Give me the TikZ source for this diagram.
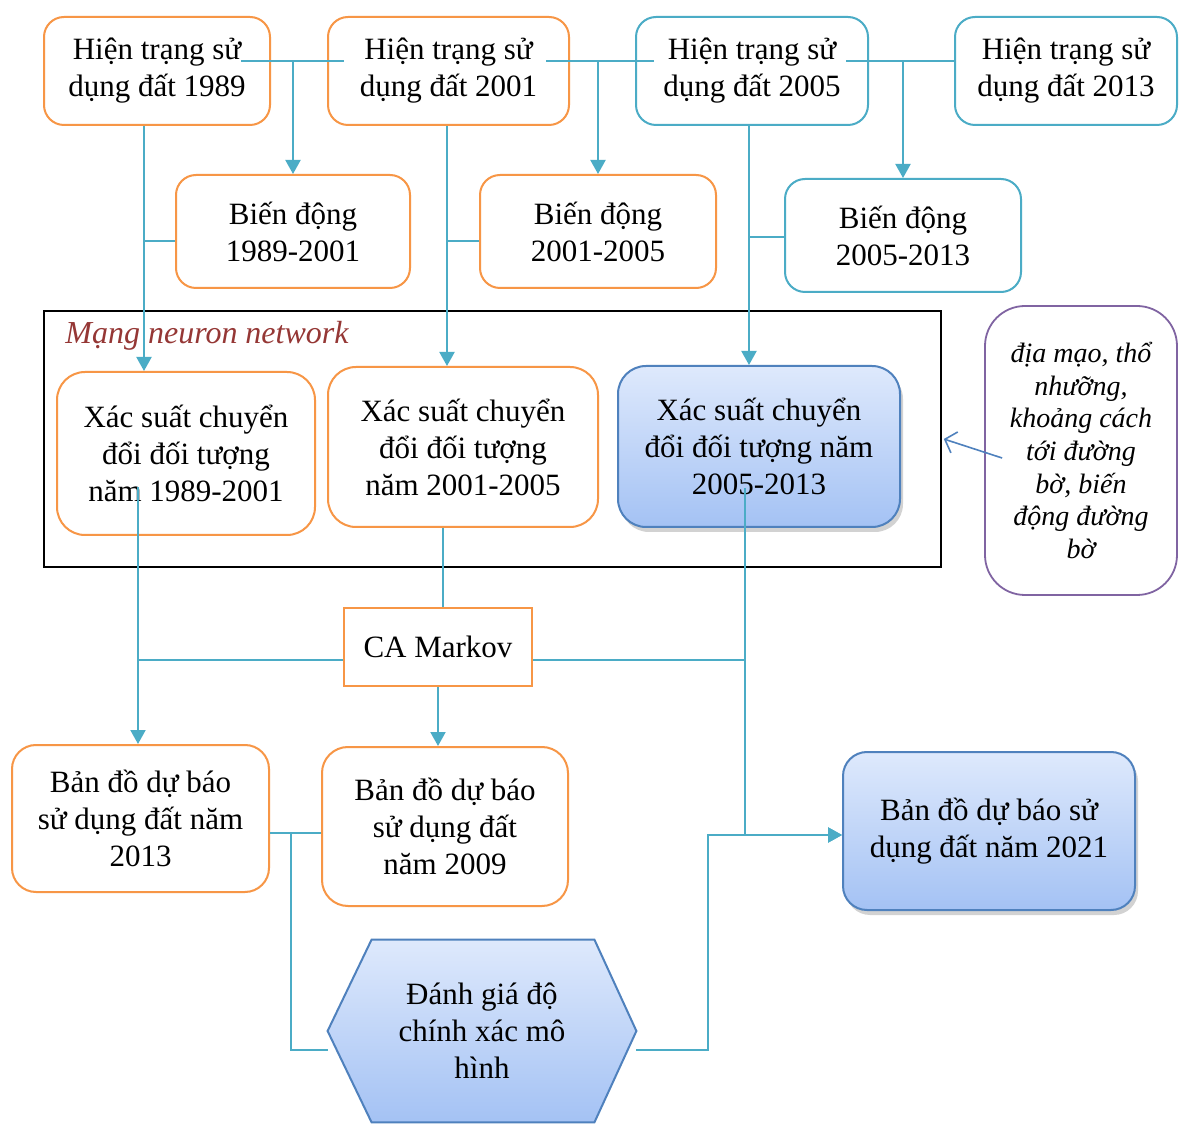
\documentclass[tikz,border=0pt]{standalone}
\usepackage{fontspec}
\setmainfont{Liberation Serif}
\usetikzlibrary{arrows.meta,shadows,calc}
\definecolor{orng}{HTML}{F79646}
\definecolor{teal1}{HTML}{4BACC6}
\definecolor{blu}{HTML}{4F81BD}
\definecolor{purp}{HTML}{8064A2}
\definecolor{dred}{HTML}{953735}
\definecolor{gtop}{HTML}{DEE9FC}
\definecolor{gbot}{HTML}{A4C2F4}
\begin{document}
\begin{tikzpicture}[x=0.5pt,y=-0.5pt,
  box/.style={draw, line width=1pt, align=center, inner sep=2pt, font=\fontsize{15.5}{18.5}\selectfont},
  obox/.style={box, draw=orng, fill=white},
  tbox/.style={box, draw=teal1, fill=white},
  gbox/.style={box, draw=blu, top color=gtop, bottom color=gbot,
    drop shadow={opacity=0.35, shadow xshift=1.5pt, shadow yshift=-2.5pt}},
  conn/.style={draw=teal1, line width=1pt},
  arr/.style={conn, -{Triangle[length=7pt,width=7.5pt]}},
  sz/.style 2 args={minimum width=#1pt, minimum height=#2pt}
]
\useasboundingbox[fill=white] (0,0) rectangle (1179,1128);

% top row
\node[obox, rounded corners=10pt, sz={113}{54}] (B1) at (157,71) {Hiện trạng sử\\dụng đất 1989};
\node[obox, rounded corners=10pt, sz={120.5}{54}] (B2) at (448.5,71) {Hiện trạng sử\\dụng đất 2001};
\node[tbox, rounded corners=10pt, sz={116}{54}] (B3) at (752,71) {Hiện trạng sử\\dụng đất 2005};
\node[tbox, rounded corners=10pt, sz={111}{54}] (B4) at (1066,71) {Hiện trạng sử\\dụng đất 2013};

% second row
\node[obox, rounded corners=10pt, sz={117}{56.5}] (BD1) at (293,231.5) {Biến động\\1989-2001};
\node[obox, rounded corners=10pt, sz={118}{56.5}] (BD2) at (598,231.5) {Biến động\\2001-2005};
\node[tbox, rounded corners=10pt, sz={118}{56.5}] (BD3) at (903,235.5) {Biến động\\2005-2013};

% neural network frame
\node[draw=black, line width=0.8pt, inner sep=0pt, sz={448.5}{128}] (NN) at (492.5,439) {};
\node[anchor=base west, text=dred, inner sep=0pt, font=\fontsize{16}{19}\selectfont\itshape] (lbl) at (65,344) {Mạng neuron network};

\node[obox, rounded corners=14pt, sz={129}{81.5}] (Xs1) at (186,453.5) {Xác suất chuyển\\đổi đối tượng\\năm 1989-2001};
\node[obox, rounded corners=14pt, sz={135}{80}] (Xs2) at (463,447) {Xác suất chuyển\\đổi đối tượng\\năm 2001-2005};
\node[gbox, rounded corners=14pt, sz={141}{80.5}] (Xs3) at (759,446.5) {Xác suất chuyển\\đổi đối tượng năm\\2005-2013};

\node[draw=purp, line width=0.9pt, fill=white, rounded corners=20pt, align=center, sz={96}{144.5},
  font=\fontsize{14}{16.3}\selectfont\itshape] (P) at (1081,450.5)
  {địa mạo, thổ\\nhưỡng,\\khoảng cách\\tới đường\\bờ, biến\\động đường\\bờ};

\node[obox, sz={94}{39}] (CA) at (438,647) {CA Markov};

\node[obox, rounded corners=12pt, sz={128.5}{73.5}] (BD13) at (140.5,818.5) {Bản đồ dự báo\\sử dụng đất năm\\2013};
\node[obox, rounded corners=13pt, sz={123}{79.5}] (BD09) at (445,826.5) {Bản đồ dự báo\\sử dụng đất\\năm 2009};
\node[gbox, rounded corners=12pt, sz={146}{79}] (BD21) at (989,831) {Bản đồ dự báo sử\\dụng đất năm 2021};

% hexagon
\node[inner sep=0pt, sz={154}{91}] (hex) at (482,1031) {};
\path[draw=blu, line width=1pt, top color=gtop, bottom color=gbot]
  (hex.west) -- ([xshift=22pt]hex.north west) -- ([xshift=-21pt]hex.north east) -- (hex.east)
  -- ([xshift=-21pt]hex.south east) -- ([xshift=22pt]hex.south west) -- cycle;
\node[align=center, font=\fontsize{15.5}{18.5}\selectfont] (hext) at (hex.center) {Đánh giá độ\\chính xác mô\\hình};

% connectors: top row
\coordinate (t1) at ([xshift=-15pt,yshift=5pt]B1.east);
\coordinate (t2) at ([xshift=8.5pt,yshift=5pt]B2.west);
\draw[conn] (t1) -- (t2);
\draw[arr] (BD1.north |- t1) -- (BD1.north);
\coordinate (t3) at ([xshift=-12pt,yshift=5pt]B2.east);
\coordinate (t4) at ([xshift=9.5pt,yshift=5pt]B3.west);
\draw[conn] (t3) -- (t4);
\draw[arr] (BD2.north |- t3) -- (BD2.north);
\coordinate (t5) at ([xshift=-11.5pt,yshift=5pt]B3.east);
\coordinate (t6) at ([yshift=5pt]B4.west);
\draw[conn] (t5) -- (t6);
\draw[arr] (BD3.north |- t5) -- (BD3.north);

% connectors: to probability boxes
\coordinate (a1) at ([xshift=-6.5pt]B1.south);
\coordinate (a2) at ([yshift=-4.75pt]BD1.west);
\draw[conn] (a1) |- (a2);
\draw[arr] (a1 |- a2) -- (a1 |- Xs1.north);
\coordinate (b1) at ([xshift=-0.75pt]B2.south);
\coordinate (b2) at ([yshift=-4.75pt]BD2.west);
\draw[conn] (b1) |- (b2);
\draw[arr] (b1 |- b2) -- (b1 |- Xs2.north);
\coordinate (c1) at ([xshift=-1.5pt]B3.south);
\coordinate (c2) at ([yshift=-0.75pt]BD3.west);
\draw[conn] (c1) |- (c2);
\draw[arr] (c1 |- c2) -- (c1 |- Xs3.north);

% external factors
\draw[blu, line width=0.8pt, -{Straight Barb[length=5pt,width=11pt]}]
  ([xshift=9pt,yshift=-3.75pt]P.west) -- ([xshift=1pt]NN.east);

% CA Markov connectors
\coordinate (s1) at ([xshift=-24pt,yshift=-17pt]Xs1.center);
\draw[arr] (s1) -- (s1 |- BD13.north);
\coordinate (ca1) at ([yshift=-6.5pt]CA.west);
\draw[conn] (s1 |- ca1) -- (ca1);
\coordinate (s2) at ([xshift=-10pt]Xs2.south);
\draw[conn] (s2) -- (s2 |- CA.north);
\draw[arr] (CA.south) -- (CA.south |- BD09.north);
\coordinate (v) at ([xshift=-7pt,yshift=-20.75pt]Xs3.center);
\coordinate (ca2) at ([yshift=-6.5pt]CA.east);
\draw[conn] (ca2) -- (v |- ca2);
\coordinate (bd21w) at ([yshift=-2pt]BD21.west);
\draw[arr] (v) |- (bd21w);

% evaluation
\coordinate (e13) at ([yshift=-7.25pt]BD13.east);
\draw[conn] (e13) -- (e13 -| BD09.west);
\coordinate (j13) at ([xshift=10.5pt]e13);
\coordinate (hw) at ([yshift=-9.5pt]hex.west);
\draw[conn] (j13) |- (hw);
\coordinate (he) at ([yshift=-9.5pt]hex.east);
\draw[arr] (he) -- ++(72,0) |- (bd21w);
\end{tikzpicture}
\end{document}
